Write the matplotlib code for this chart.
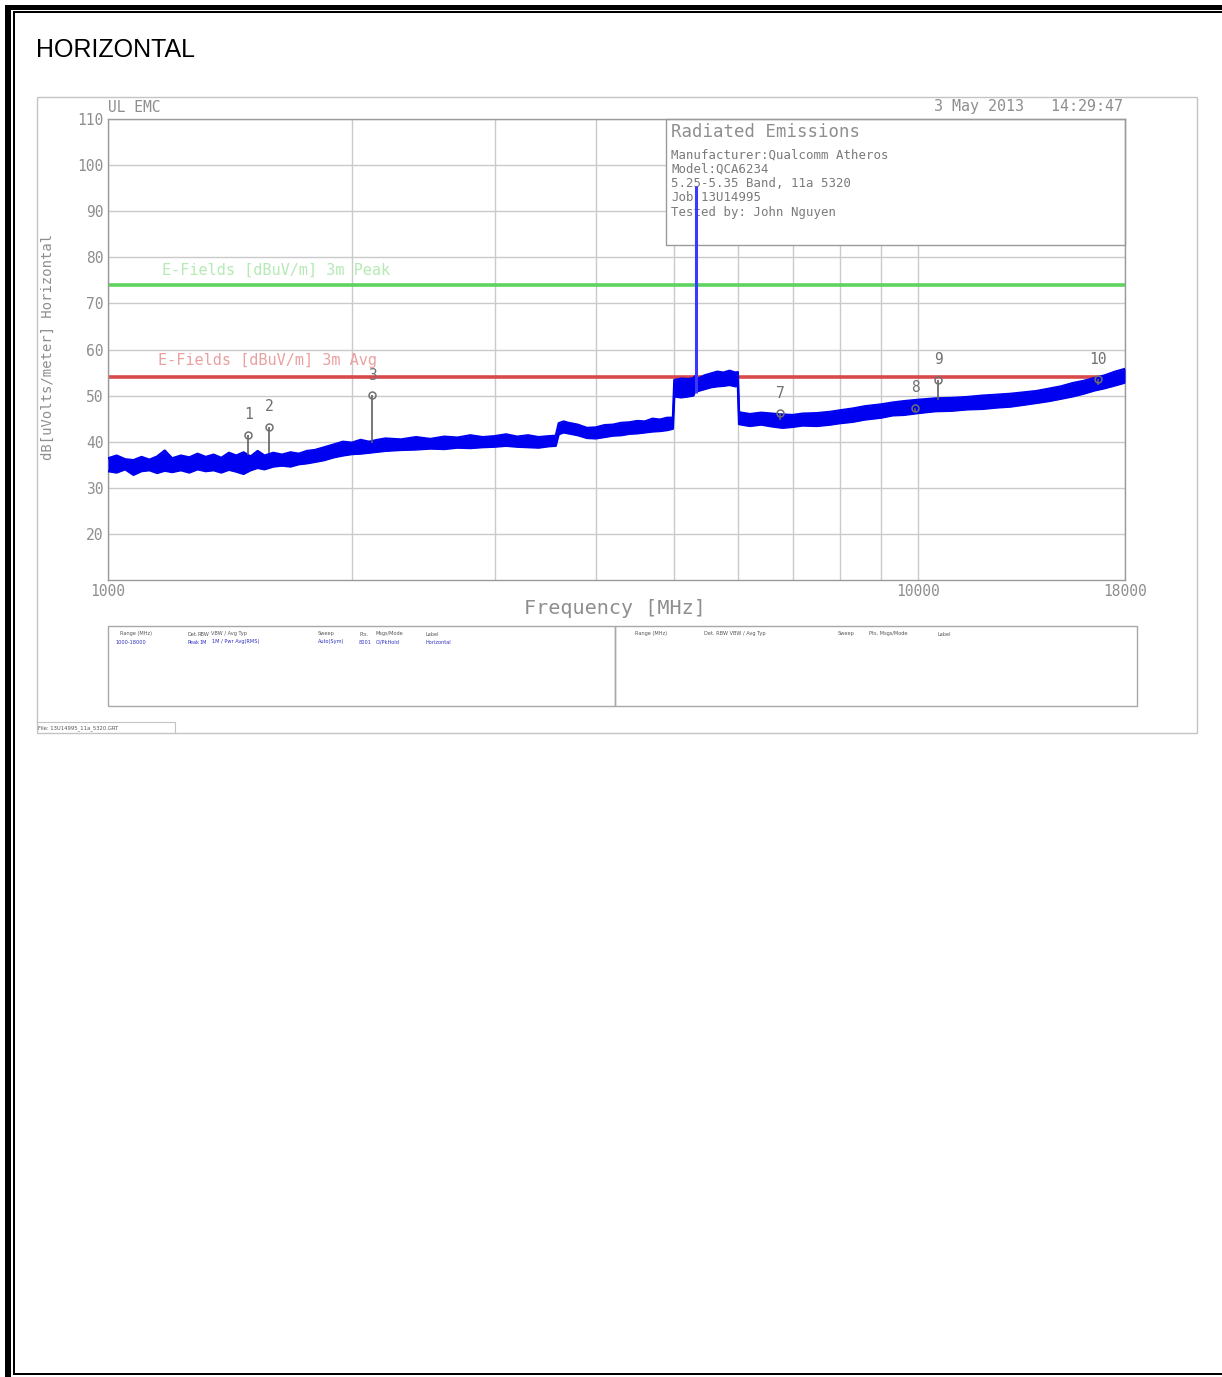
import matplotlib
matplotlib.use('Agg')
import matplotlib.pyplot as plt
from matplotlib.patches import Rectangle
from matplotlib.ticker import NullFormatter

# ---------------- data ----------------
trace_freq = [1000, 1025, 1050, 1075, 1100, 1125, 1150, 1175, 1200, 1230, 1260, 1290,
              1320, 1350, 1380, 1410, 1440, 1470, 1500, 1530, 1560, 1600, 1640, 1680,
              1720, 1760, 1800, 1850, 1900, 1950, 2000, 2050, 2100, 2150, 2200, 2300,
              2400, 2500, 2600, 2700, 2800, 2900, 3000, 3100, 3200, 3300, 3400, 3500,
              3570,
              3600, 3650, 3700, 3800, 3900, 4000, 4100, 4200, 4300, 4400, 4500, 4600,
              4700, 4800, 4900, 4980,
              5000, 5100, 5200, 5280, 5300, 5350, 5450, 5550, 5650, 5750, 5850, 5950,
              5990,
              6010, 6100, 6200, 6400, 6600, 6800, 7000, 7200, 7500, 7800, 8000, 8300,
              8600, 9000, 9300, 9600, 10000, 10500, 11000, 11500, 12000, 12500, 13000,
              13500, 14000, 14500, 15000, 15500, 16000, 16500, 17000, 17500, 18000]
trace_lo = [33.6, 33.3, 34.0, 32.8, 33.6, 33.8, 33.2, 33.7, 33.4, 33.8, 33.3, 34.0,
            33.6, 33.8, 33.3, 33.9, 33.5, 33.0, 33.8, 34.3, 34.0, 34.6, 34.8, 34.6,
            35.1, 35.3, 35.6, 36.0, 36.6, 37.0, 37.3, 37.4, 37.6, 37.8, 38.0, 38.2,
            38.3, 38.5, 38.4, 38.7, 38.6, 38.8, 38.9, 39.1, 38.9, 38.8, 38.7, 39.0,
            39.1,
            41.6, 42.0, 41.8, 41.4, 40.8, 40.7, 41.0, 41.3, 41.4, 41.7, 41.8, 42.0,
            42.2, 42.3, 42.5, 42.8,
            49.8, 49.6, 49.8, 50.0, 50.8, 51.0, 51.4, 51.8, 52.0, 52.1, 52.3, 52.0,
            52.2,
            43.8, 43.6, 43.4, 43.7, 43.3, 43.0, 43.2, 43.5, 43.4, 43.7, 44.0, 44.3,
            44.8, 45.2, 45.7, 45.8, 46.2, 46.6, 46.7, 47.0, 47.1, 47.4, 47.6,
            48.0, 48.4, 48.8, 49.3, 49.8, 50.4, 51.1, 51.6, 52.2, 52.8]
trace_hi = [36.4, 37.0, 36.2, 36.0, 36.7, 36.1, 36.8, 38.1, 36.4, 37.0, 36.6, 37.4,
            36.7, 37.2, 36.5, 37.6, 37.0, 37.7, 36.8, 38.0, 37.0, 37.6, 37.2, 37.7,
            37.4, 38.0, 38.2, 38.8, 39.4, 40.0, 39.8, 40.4, 40.0, 40.4, 40.7, 40.5,
            41.0, 40.6, 41.1, 40.9, 41.4, 41.0, 41.2, 41.6, 41.1, 41.4, 41.0, 41.2,
            41.3,
            44.0, 44.4, 44.1, 43.7, 43.0, 43.1, 43.6, 43.7, 44.1, 44.2, 44.5, 44.4,
            45.0, 44.8, 45.2, 45.2,
            53.4, 53.7, 53.6, 53.8, 54.2, 53.7, 54.4, 54.8, 55.2, 55.0, 55.4, 55.0,
            55.1,
            46.4, 46.2, 46.0, 46.3, 46.1, 45.9, 45.8, 46.1, 46.2, 46.5, 46.8, 47.2,
            47.7, 48.1, 48.5, 48.8, 49.1, 49.4, 49.5, 49.7, 50.0, 50.2, 50.4,
            50.7, 51.0, 51.5, 52.0, 52.7, 53.2, 53.8, 54.4, 55.2, 55.8]

carrier_freq = 5320
carrier_base = 50.5
carrier_peak = 95.5

peak_limit = 74
avg_limit = 54
peak_limit_label = "E-Fields [dBuV/m] 3m Peak"
avg_limit_label = "E-Fields [dBuV/m] 3m Avg"

marker_labels = ["1", "2", "3", "7", "8", "9", "10"]
marker_freq = [1489, 1580, 2118, 6755, 9915, 10585, 16680]
marker_value = [41.5, 43.2, 50.1, 46.2, 47.4, 53.4, 53.6]
marker_base = [37.1, 37.5, 39.7, 44.7, 46.5, 49.0, 52.2]

y_ticks = [20, 30, 40, 50, 60, 70, 80, 90, 100, 110]
x_major = [1000, 10000, 18000]
x_minor = [2000, 3000, 4000, 5000, 6000, 7000, 8000, 9000]

info_title = "Radiated Emissions"
info_lines = ["Manufacturer:Qualcomm Atheros", "Model:QCA6234",
              "5.25-5.35 Band, 11a 5320", "Job:13U14995", "Tested by: John Nguyen"]

# ---------------- figure ----------------
W, H = 1222, 1377
fig = plt.figure(figsize=(W / 100, H / 100), dpi=100)
fig.patch.set_facecolor('white')

ov = fig.add_axes([0, 0, 1, 1], zorder=0)
ov.set_xlim(0, W)
ov.set_ylim(H, 0)
ov.set_axis_off()

MONO = 'DejaVu Sans Mono'
GREY = '#8e8e8e'

# page border (document table frame)
for (x0, y0, w, h) in [(5, 5, 6, H - 5), (5, 5, W - 5, 5),
                       (13, 12, 2, 1363), (13, 11, W - 13, 2), (13, 1373, W - 13, 2)]:
    ov.add_patch(Rectangle((x0, y0), w, h, facecolor='black', edgecolor='none'))

ov.text(36, 57, "HORIZONTAL", fontsize=18, family='Liberation Sans',
        ha='left', va='baseline', color='black')

# chart image frame
ov.add_patch(Rectangle((37, 97), 1160, 636, facecolor='none', edgecolor='#c4c4c4', lw=1))

ov.text(108, 112, "UL EMC", fontsize=10.5, family=MONO, color=GREY, ha='left', va='baseline')
ov.text(1123, 111, "3 May 2013   14:29:47", fontsize=10.8, family=MONO, color=GREY,
        ha='right', va='baseline')
ov.text(48, 347, "dB[uVolts/meter] Horizontal", fontsize=10, family=MONO, color=GREY,
        rotation=90, ha='center', va='center')
ov.text(615, 609, "Frequency [MHz]", fontsize=14.5, family=MONO, color=GREY,
        ha='center', va='center')

# legend tables
ov.add_patch(Rectangle((108, 626), 507, 80, facecolor='none', edgecolor='#a8a8a8', lw=1))
ov.add_patch(Rectangle((615, 626), 522, 80, facecolor='none', edgecolor='#a8a8a8', lw=1))
hdr_l = [(120, "Range (MHz)"), (188, "Det."), (198, "RBW"), (211, "VBW / Avg Typ"),
         (318, "Sweep"), (359, "Pts."), (376, "Msgs/Mode"), (426, "Label")]
row_l = [(116, "1000-18000"), (188, "Peak"), (200, "1M"), (212, "1M / Pwr Avg(RMS)"),
         (318, "Auto(Sym)"), (359, "8001"), (376, "Cl/PkHold"), (426, "Horizontal")]
hdr_r = [(635, "Range (MHz)"), (704, "Det. RBW VBW / Avg Typ"), (838, "Sweep"),
         (869, "Pts. Msgs/Mode"), (938, "Label")]
for x, s in hdr_l + hdr_r:
    ov.text(x, 634, s, fontsize=3.6, family='DejaVu Sans', color='#555555', ha='left', va='center')
for x, s in row_l:
    ov.text(x, 642, s, fontsize=3.6, family='DejaVu Sans', color='#3030c0', ha='left', va='center')

ov.text(38, 728, "File: 13U14995_11a_5320.GRT", fontsize=3.8, family='DejaVu Sans',
        color='#555555', ha='left', va='center')
ov.plot([37, 175, 175], [722, 722, 733], color='#c4c4c4', lw=0.8)

# ---------------- data axes ----------------
left, right, top, bottom = 108, 1125, 119, 580
ax = fig.add_axes([left / W, 1 - bottom / H, (right - left) / W, (bottom - top) / H], zorder=1)
ax.set_facecolor('white')
ax.set_xscale('log')
ax.set_xlim(1000, 18000)
ax.set_ylim(10, 110)
ax.set_axisbelow(True)

ax.set_xticks(x_major)
ax.set_xticklabels([str(v) for v in x_major])
ax.set_xticks(x_minor, minor=True)
ax.xaxis.set_minor_formatter(NullFormatter())
ax.set_yticks(y_ticks)
ax.set_yticklabels([str(v) for v in y_ticks])
ax.tick_params(which='both', length=0, colors=GREY, labelsize=10.5, pad=3)
for lab in ax.get_xticklabels() + ax.get_yticklabels():
    lab.set_family(MONO)
    lab.set_color(GREY)
ax.grid(which='both', axis='x', color='#cacaca', lw=1)
ax.grid(which='major', axis='y', color='#cacaca', lw=1)
for sp in ax.spines.values():
    sp.set_color('#9a9a9a')
    sp.set_linewidth(1)

# info box (covers grid, under the trace)
ax.add_patch(Rectangle((666, 119), 459, 126, transform=ov.transData, facecolor='white',
                       edgecolor='#9a9a9a', lw=1, zorder=1.5, clip_on=False))
ax.text(671, 132, info_title, transform=ov.transData, fontsize=12.5, family=MONO,
        color=GREY, ha='left', va='center', zorder=1.6)
for i, s in enumerate(info_lines):
    ax.text(671, 155 + i * 14.3, s, transform=ov.transData, fontsize=8.9, family=MONO,
            color='#7a7a7a', ha='left', va='center', zorder=1.6)

# limit lines
ax.axhline(peak_limit, color='#5fd35f', lw=2.6, zorder=2)
ax.axhline(avg_limit, color='#d84a4a', lw=2.6, zorder=2)
ax.text(162, 270, peak_limit_label, transform=ov.transData, fontsize=11, family=MONO,
        color='#b4eab4', ha='left', va='center', zorder=2)
ax.text(158, 360, avg_limit_label, transform=ov.transData, fontsize=11, family=MONO,
        color='#eaa0a0', ha='left', va='center', zorder=2)

# trace
ax.fill_between(trace_freq, trace_lo, trace_hi, color='#0000f0', lw=0, zorder=3)
ax.plot(trace_freq, trace_lo, color='#0000f0', lw=1.6, zorder=3)
ax.plot(trace_freq, trace_hi, color='#0000f0', lw=1.6, zorder=3)
ax.vlines(carrier_freq, carrier_base, carrier_peak, color='#3a3aff', lw=2.2, zorder=3.2)

# markers
for lab, f, v, b in zip(marker_labels, marker_freq, marker_value, marker_base):
    ax.vlines(f, b, v, color='#606060', lw=1.2, zorder=3.5)
    ax.plot([f], [v], marker='o', ms=5, mfc='none', mec='#707070', mew=1.1, zorder=3.6)
    ax.annotate(lab, (f, v), xytext=(0, 9), textcoords='offset points', ha='center',
                va='bottom', fontsize=10.5, family=MONO, color='#707070', zorder=3.6)

fig.savefig('out.png', dpi=100, facecolor='white')
